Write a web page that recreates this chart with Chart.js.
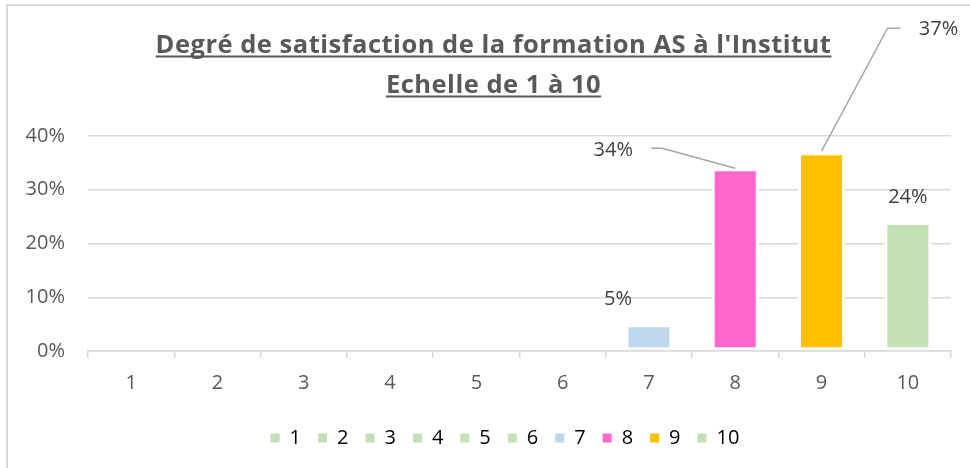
<!DOCTYPE html>
<html>
<head>
<meta charset="utf-8">
<script src="https://cdn.jsdelivr.net/npm/chart.js@4"></script>
<style>
  html, body { margin: 0; padding: 0; background: #fff; }
  #wrap { width: 970px; height: 468px; position: relative; }
</style>
</head>
<body>
<div id="wrap"><canvas id="satisfactionChart"></canvas></div>
<script>
// Données
const categories = ['1', '2', '3', '4', '5', '6', '7', '8', '9', '10'];
const satisfaction = [0, 0, 0, 0, 0, 0, 0.05, 0.34, 0.37, 0.24];
const barColors = ['#C5E0B4', '#C5E0B4', '#C5E0B4', '#C5E0B4', '#C5E0B4', '#C5E0B4',
                   '#BDD7EE', '#FF66CC', '#FFC000', '#C5E0B4'];
const yTicks = [0, 0.1, 0.2, 0.3, 0.4];
const titleLines = ["Degré de satisfaction de la formation AS à l'Institut", "Echelle de 1 à 10"];

const FONT = '"Open Sans"';
const TXT = '#595959';
const GRID = '#D9D9D9';
const pct = v => Math.round(v * 100) + '%';

// cadre (bord gauche et haut)
const framePlugin = {
    id: 'frame',
    beforeDraw(chart) {
        const ctx = chart.ctx;
        ctx.save();
        ctx.strokeStyle = GRID;
        ctx.lineWidth = 2;
        ctx.beginPath();
        ctx.moveTo(7, chart.height);
        ctx.lineTo(7, 5);
        ctx.lineTo(chart.width, 5);
        ctx.stroke();
        ctx.restore();
    }
};

// légende un peu décalée vers la droite, comme dans Excel
const legendShift = {
    id: 'legendShift',
    afterLayout(chart) {
        chart.legend.left = 59;
    }
};

// titre souligné (deux lignes)
const titlePlugin = {
    id: 'underlinedTitle',
    afterDraw(chart) {
        const ctx = chart.ctx;
        ctx.save();
        ctx.font = 'bold 25.5px ' + FONT;
        ctx.letterSpacing = '0.5px';
        ctx.fillStyle = TXT;
        ctx.strokeStyle = TXT;
        ctx.lineWidth = 2;
        ctx.textAlign = 'center';
        ctx.textBaseline = 'alphabetic';
        const cx = 493.5;
        titleLines.forEach((line, i) => {
            const base = 53 + i * 40;
            ctx.fillText(line, cx, base);
            const w = ctx.measureText(line).width;
            ctx.beginPath();
            ctx.moveTo(cx - w / 2, base + 3.5);
            ctx.lineTo(cx + w / 2, base + 3.5);
            ctx.stroke();
        });
        ctx.restore();
    }
};

// étiquettes de données (décalages par barre, avec lignes de rappel)
const labelPlacement = {
    6: { dx: -31, dy: -25 },
    7: { dx: -122, dy: -18, leader: [[-84, -20], [-73, -20], [0, 0]] },
    8: { dx: 117, dy: -123, leader: [[79, -124], [66, -124], [0, -1]] },
    9: { dx: 0, dy: -25 }
};
const dataLabelPlugin = {
    id: 'dataLabels',
    afterDatasetsDraw(chart) {
        const ctx = chart.ctx;
        const meta = chart.getDatasetMeta(0);
        ctx.save();
        ctx.font = '20px ' + FONT;
        ctx.fillStyle = '#404040';
        ctx.textAlign = 'center';
        ctx.textBaseline = 'middle';
        satisfaction.forEach((v, i) => {
            const p = labelPlacement[i];
            if (!v || !p) return;
            const bar = meta.data[i];
            if (p.leader) {
                ctx.strokeStyle = '#A6A6A6';
                ctx.lineWidth = 1.5;
                ctx.beginPath();
                p.leader.forEach(([lx, ly], k) => {
                    if (k === 0) ctx.moveTo(bar.x + lx, bar.y + ly);
                    else ctx.lineTo(bar.x + lx, bar.y + ly);
                });
                ctx.stroke();
            }
            ctx.fillText(pct(v), bar.x + p.dx, bar.y + p.dy);
        });
        ctx.restore();
    }
};

const ctx = document.getElementById('satisfactionChart').getContext('2d');
const satisfactionChart = new Chart(ctx, {
    type: 'bar',
    data: {
        labels: categories,
        datasets: [{
            label: 'Satisfaction',
            data: satisfaction,
            backgroundColor: barColors,
            borderColor: '#FFFFFF',
            borderWidth: 3,
            borderSkipped: false,
            barPercentage: 0.545,
            categoryPercentage: 1
        }]
    },
    options: {
        responsive: true,
        maintainAspectRatio: false,
        animation: false,
        layout: { padding: { left: 0, right: 19, top: 136, bottom: 10 } },
        plugins: {
            title: { display: false },
            legend: {
                position: 'bottom',
                labels: {
                    font: { family: FONT, size: 20 },
                    color: TXT,
                    boxWidth: 9,
                    boxHeight: 9,
                    padding: 17,
                    generateLabels: () => categories.map((c, i) => ({
                        text: c,
                        fillStyle: barColors[i],
                        strokeStyle: barColors[i],
                        lineWidth: 0,
                        index: i
                    }))
                }
            },
            tooltip: { enabled: false }
        },
        scales: {
            x: {
                grid: { offset: true, drawOnChartArea: false, tickLength: 7, color: GRID, lineWidth: 1.5 },
                border: { color: GRID, width: 1.5 },
                ticks: { font: { family: FONT, size: 20 }, color: TXT, padding: 13 },
                afterFit: s => { s.height = s.chart.height - 351 - s.chart.legend.height - 10; }
            },
            y: {
                min: 0,
                max: 0.4,
                afterBuildTicks: s => { s.ticks = yTicks.map(v => ({ value: v })); },
                grid: { color: GRID, lineWidth: 1.5, drawTicks: false },
                border: { display: false },
                ticks: { font: { family: FONT, size: 20 }, color: TXT, padding: 23, callback: v => pct(v) },
                afterFit: s => { s.width = 88; }
            }
        }
    },
    plugins: [framePlugin, legendShift, titlePlugin, dataLabelPlugin]
});
</script>
</body>
</html>
